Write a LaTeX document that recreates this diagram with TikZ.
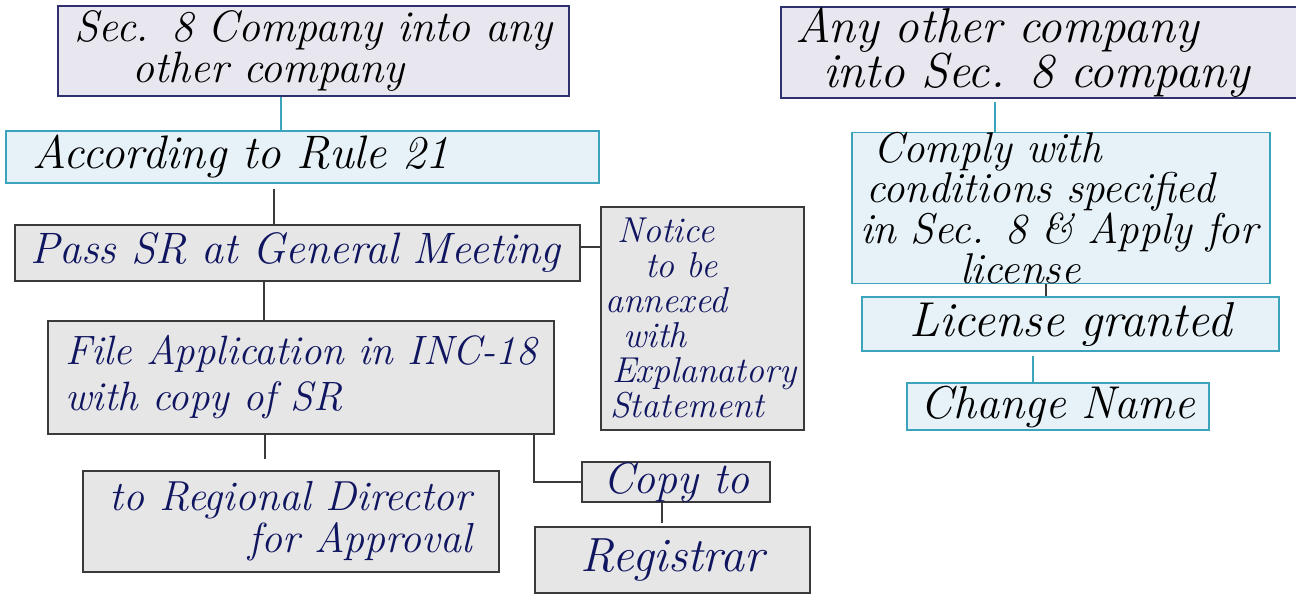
\documentclass[tikz,border=0pt]{standalone}
\usepackage{tikz}
\definecolor{lavfill}{HTML}{E8E6EE}
\definecolor{navyline}{HTML}{2E3070}
\definecolor{bluefill}{HTML}{E6F2F7}
\definecolor{tealline}{HTML}{3BA3BC}
\definecolor{grayfill}{HTML}{E6E6E6}
\definecolor{grayline}{HTML}{3A3A3A}
\definecolor{inknavy}{HTML}{101560}
\newcommand{\hand}[2]{\fontsize{#1}{#2}\selectfont\itshape}
\tikzset{
  lav box/.style={draw=navyline, fill=lavfill, line width=1.4pt, inner ysep=0pt, text=black, font=\hand{44}{38}},
  blue box/.style={draw=tealline, fill=bluefill, line width=1.4pt, inner ysep=0pt, text=black, font=\hand{47}{38}},
  gray box/.style={draw=grayline, fill=grayfill, line width=1.2pt, inner ysep=0pt, text=inknavy, font=\hand{44}{44}},
  teal link/.style={draw=tealline, line width=1.2pt},
  gray link/.style={draw=grayline, line width=1.1pt},
}

\begin{document}
\begin{tikzpicture}[x=1pt, y=-1pt]
        \useasboundingbox[fill=white] (0,0) rectangle (1296,609);

        % left column
        \node[lav box, minimum width=511pt, minimum height=90pt, text width=495pt, align=center] (sec) at (313.5,51) {Sec. 8 Company into any\\ other company\hspace*{90pt}};
        \node[blue box, minimum width=593pt, minimum height=52pt, inner xsep=26pt, text width=541pt, align=left] (rule) at (302.5,157) {According to Rule 21};
        \node[gray box, minimum width=565pt, minimum height=56pt, inner xsep=13pt, text width=539pt, align=left] (pass) at (297.5,253) {\hspace*{2pt}Pass SR at General Meeting};
        \node[gray box, font=\hand{36}{35}, minimum width=203pt, minimum height=223pt, inner xsep=2pt, text width=199pt, align=left] (notice) at (702.5,318.5) {\hspace*{14pt}Notice\\ \hspace*{42pt}to be\\ \hspace*{2pt}annexed\\ \hspace*{20pt}with\\ \hspace*{9pt}Explanatory\\ \hspace*{7pt}Statement};
        \node[gray box, font=\hand{41}{46}, minimum width=506pt, minimum height=113pt, align=left] (file) at (301,377.5) {File Application in INC-18\\ with copy of SR};
        \node[gray box, font=\hand{42}{42}, minimum width=416pt, minimum height=101pt, align=right] (regional) at (291,521.5) {to Regional Director\\ for Approval};
        \node[gray box, minimum width=188pt, minimum height=40pt, inner xsep=18pt, text width=152pt, align=left] (copyto) at (676,482) {\hspace*{3pt}Copy to};
        \node[gray box, font=\hand{48}{48}, minimum width=275pt, minimum height=66pt, text width=259pt, align=center] (registrar) at (672.5,560) {Registrar};

        % right column
        \node[lav box, font=\hand{49}{42}, minimum width=529pt, minimum height=91pt, inner xsep=14pt, text width=501pt, align=left] (anyother) at (1045.5,52.5) {Any other company\\ \hspace*{28pt}into Sec. 8 company};
        \node[blue box, font=\hand{43}{37}, minimum width=418pt, minimum height=150pt, inner xsep=5pt, text width=408pt, align=left] (comply) at (1061,208) {\hspace*{16pt}Comply with\\ \hspace*{9pt}conditions specified\\ \hspace*{3pt}in Sec. 8 \& Apply for\\ \hspace*{103pt}license};
        \node[blue box, font=\hand{49}{49}, minimum width=417pt, minimum height=54pt, text width=401pt, align=center] (licgranted) at (1070.5,324) {License granted};
        \node[blue box, font=\hand{46}{46}, minimum width=302pt, minimum height=47pt, text width=286pt, align=center] (changename) at (1058,406.5) {Change Name};

        % connectors
        \draw[teal link] ([xshift=-32.5pt]sec.south) -- ([xshift=-32.5pt]sec.south |- rule.north);
        \draw[gray link, shorten <=5pt] ([xshift=-28.5pt]rule.south) -- ([xshift=-28.5pt]rule.south |- pass.north);
        \draw[gray link] ([yshift=6pt]pass.east) -- ([yshift=6pt]pass.east -| notice.west);
        \draw[gray link] ([xshift=-33.5pt]pass.south) -- ([xshift=-33.5pt]pass.south |- file.north);
        \draw[gray link, shorten >=11pt] ([xshift=-36pt]file.south) -- ([xshift=-36pt]file.south |- regional.north);
        \draw[gray link] ([xshift=233pt]file.south) |- (copyto.west);
        \draw[gray link, shorten >=3pt] ([xshift=-14pt]copyto.south) -- ([xshift=-14pt]copyto.south |- registrar.north);
        \draw[teal link, shorten <=3pt] ([xshift=-50.5pt]anyother.south) -- ([xshift=-50.5pt]anyother.south |- comply.north);
        \draw[gray link] ([xshift=-15pt]comply.south) -- ([xshift=-15pt]comply.south |- licgranted.north);
        \draw[teal link, shorten <=4pt] ([xshift=-37.5pt]licgranted.south) -- ([xshift=-37.5pt]licgranted.south |- changename.north);
\end{tikzpicture}
\end{document}
